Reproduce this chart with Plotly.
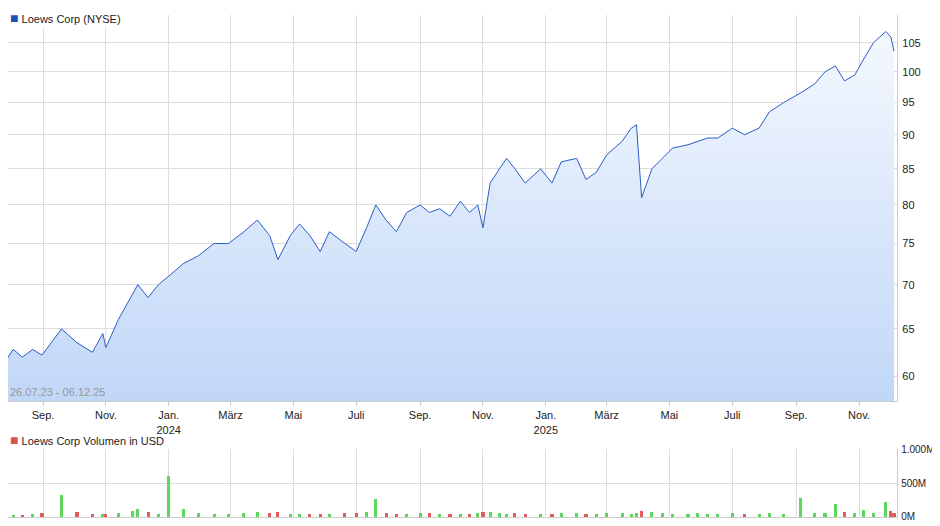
import plotly.graph_objects as go

dates = ["2023-07-26", "2023-08-03", "2023-08-12", "2023-08-22", "2023-08-31", "2023-09-19",
         "2023-10-04", "2023-10-19", "2023-10-29", "2023-11-01", "2023-11-13", "2023-11-27",
         "2023-12-02", "2023-12-12", "2023-12-22", "2024-01-01", "2024-01-15", "2024-01-30",
         "2024-02-14", "2024-02-28", "2024-03-14", "2024-03-27", "2024-04-08", "2024-04-16",
         "2024-04-28", "2024-05-07", "2024-05-17", "2024-05-27", "2024-06-05", "2024-06-20",
         "2024-07-01", "2024-07-11", "2024-07-20", "2024-07-30", "2024-08-09", "2024-08-19",
         "2024-09-01", "2024-09-10", "2024-09-20", "2024-09-30", "2024-10-10", "2024-10-19",
         "2024-10-27", "2024-11-01", "2024-11-08", "2024-11-17", "2024-11-24", "2024-12-02",
         "2024-12-12", "2024-12-27", "2025-01-07", "2025-01-16", "2025-01-31", "2025-02-09",
         "2025-02-19", "2025-03-01", "2025-03-16", "2025-03-25", "2025-03-30", "2025-04-04",
         "2025-04-14", "2025-04-24", "2025-05-04", "2025-05-19", "2025-05-28", "2025-06-07",
         "2025-06-17", "2025-07-01", "2025-07-13", "2025-07-27", "2025-08-06", "2025-08-20",
         "2025-09-05", "2025-09-19", "2025-09-29", "2025-10-09", "2025-10-18", "2025-10-28",
         "2025-11-05", "2025-11-15", "2025-11-27", "2025-12-02", "2025-12-05"]
close = [61.5, 62.8, 62.0, 62.8, 62.2, 65.0,
         63.5, 62.5, 64.5, 63.0, 66.0, 69.0,
         70.0, 68.5, 70.0, 71.0, 72.5, 73.5,
         75.0, 75.0, 76.5, 78.0, 76.0, 73.0,
         76.0, 77.5, 76.0, 74.0, 76.5, 75.0,
         74.0, 77.0, 80.0, 78.0, 76.5, 79.0,
         80.0, 79.0, 79.5, 78.5, 80.5, 79.0,
         80.0, 77.0, 83.0, 85.0, 86.5, 85.0,
         83.0, 85.0, 83.0, 86.0, 86.5, 83.5,
         84.5, 87.0, 89.0, 91.0, 91.5, 81.0,
         85.0, 86.5, 88.0, 88.5, 89.0, 89.5,
         89.5, 91.0, 90.0, 91.0, 93.5, 95.0,
         96.5, 98.0, 100.0, 101.0, 98.5, 99.5,
         102.0, 105.0, 107.0, 106.0, 103.5]
volume_m = [40, 35, 30, 45, 60, 330,
            70, 45, 40, 50, 60, 90,
            120, 70, 50, 600, 110, 60,
            50, 45, 60, 70, 55, 80,
            50, 45, 40, 50, 45, 60,
            55, 70, 260, 60, 50, 45,
            60, 55, 50, 45, 50, 40,
            60, 80, 70, 60, 50, 55,
            45, 50, 40, 60, 55, 50,
            45, 60, 55, 50, 60, 90,
            70, 55, 50, 45, 60, 50,
            45, 55, 50, 45, 60, 50,
            280, 60, 55, 190, 70, 60,
            100, 55, 220, 90, 60]

price_ticks = [60, 65, 70, 75, 80, 85, 90, 95, 100, 105]
month_ticks = ["2023-09-01", "2023-11-01", "2024-01-01", "2024-03-01", "2024-05-01", "2024-07-01",
               "2024-09-01", "2024-11-01", "2025-01-01", "2025-03-01", "2025-05-01", "2025-07-01",
               "2025-09-01", "2025-11-01"]
month_labels = ["Sep.", "Nov.", "Jan.<br>2024", "März", "Mai", "Juli", "Sep.", "Nov.",
                "Jan.<br>2025", "März", "Mai", "Juli", "Sep.", "Nov."]

vol_colors = ["#e05c5c" if i > 0 and close[i] < close[i - 1] else "#5cd65c" for i in range(len(close))]
floor = [50] * len(close)

fig = go.Figure()
fig.add_trace(go.Scatter(x=dates, y=floor, mode="lines", line=dict(width=0), showlegend=False,
                         hoverinfo="skip"))
fig.add_trace(go.Scatter(x=dates, y=close, mode="lines", line=dict(color="#2a5cc8", width=1),
                         fill="tonexty",
                         fillgradient=dict(type="vertical",
                                           colorscale=[[0, "#b5cff6"], [1, "#f4f8fe"]]),
                         showlegend=False))
fig.add_trace(go.Bar(x=dates, y=volume_m, marker_color=vol_colors, marker_line_width=0,
                     width=3 * 86400000, xaxis="x2", yaxis="y2", showlegend=False))

grid = "#dcdcdc"
fig.update_layout(
    width=932, height=518, margin=dict(l=0, r=0, t=0, b=0, autoexpand=False),
    paper_bgcolor="white", plot_bgcolor="white",
    font=dict(family="Liberation Sans, Arial", size=11, color="#222"),
    xaxis=dict(domain=[0.0, 0.954], range=["2023-07-29", "2025-12-08"], tickvals=month_ticks,
               ticktext=month_labels, showgrid=True, gridcolor=grid, ticks="outside",
               ticklen=4, tickcolor="#ccc", showline=True, linecolor="#ccc", anchor="y"),
    yaxis=dict(domain=[0.2413, 0.9865], type="log", range=[1.7604, 2.0414], side="right",
               tickvals=price_ticks, showgrid=True, gridcolor=grid, showline=True,
               linecolor="#ccc", anchor="x", ticks="", ticklabelstandoff=2),
    xaxis2=dict(domain=[0.0, 0.954], range=["2023-07-29", "2025-12-08"], tickvals=month_ticks,
                showticklabels=False, showgrid=True, gridcolor=grid, anchor="y2",
                showline=True, linecolor="#ccc"),
    yaxis2=dict(domain=[0.0174, 0.1486], range=[0, 1000], side="right", anchor="x2",
                tickvals=[0, 500, 1000], ticktext=["0M", "500M", "1.000M"],
                showgrid=True, gridcolor=grid, showline=True, linecolor="#ccc",
                ticklabelstandoff=1, tickfont=dict(size=10)),
    bargap=0,
)
fig.add_annotation(x=0.0, y=1.0, xref="paper", yref="paper", xanchor="left", yanchor="top",
                   text="<span style='color:#1f4fb0;font-size:14px'>■</span> Loews Corp (NYSE)",
                   showarrow=False, font=dict(size=11), bgcolor="white")
fig.add_annotation(x=0.0, y=0.166, xref="paper", yref="paper", xanchor="left", yanchor="middle",
                   text="<span style='color:#d9534f;font-size:14px'>■</span> Loews Corp Volumen in USD",
                   showarrow=False, font=dict(size=11))
fig.add_annotation(x=0.0, y=0.2423, xref="paper", yref="paper", xanchor="left", yanchor="bottom",
                   text="26.07.23 - 06.12.25", showarrow=False,
                   font=dict(size=11, color="#999"))
fig.write_html("out.html")
